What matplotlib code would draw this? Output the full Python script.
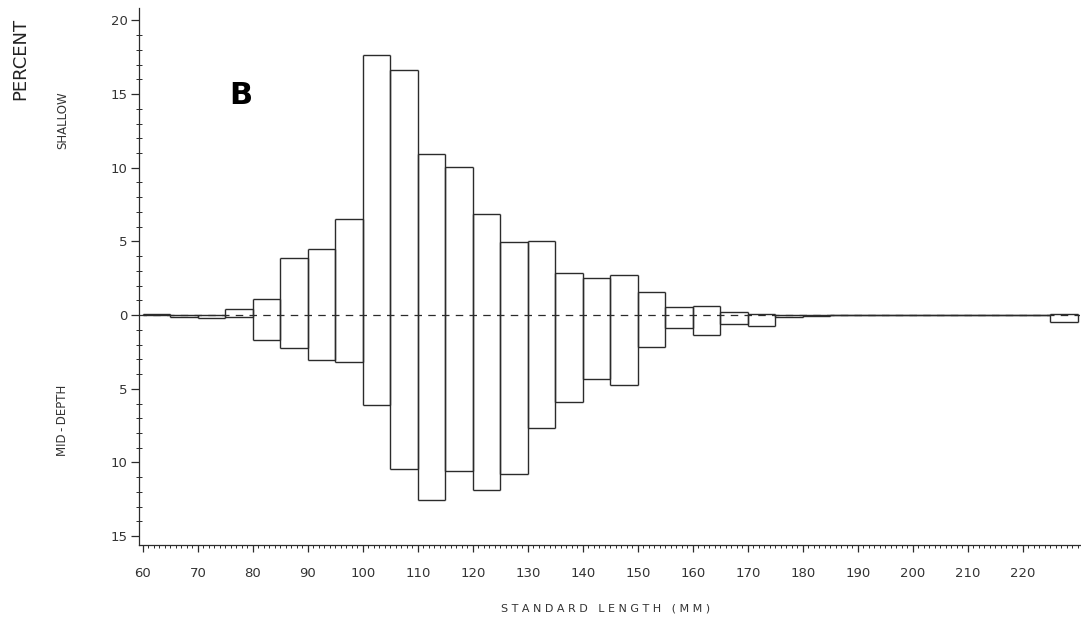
import numpy as np
import matplotlib
matplotlib.use('Agg')
import matplotlib.pyplot as plt
from matplotlib.ticker import MultipleLocator, FuncFormatter

# ── Data (percent per 5 mm standard-length class) ──────────────────────────
bin_starts = [60, 65, 70, 75, 80, 85, 90, 95, 100, 105, 110, 115, 120, 125,
              130, 135, 140, 145, 150, 155, 160, 165, 170, 175, 180, 185,
              190, 195, 200, 205, 210, 215, 220, 225]
shallow = [0.10, 0.03, 0.03, 0.40, 1.10, 3.90, 4.50, 6.50, 17.65, 16.63,
           10.90, 10.05, 6.86, 4.93, 5.02, 2.87, 2.55, 2.72, 1.54, 0.56,
           0.60, 0.18, 0.05, 0.00, 0.00, 0.02, 0.02, 0.02, 0.02, 0.02,
           0.02, 0.02, 0.02, 0.05]
mid_depth = [0.02, 0.15, 0.20, 0.10, 1.70, 2.20, 3.05, 3.15, 6.10, 10.45,
             12.56, 10.60, 11.90, 10.80, 7.67, 5.90, 4.35, 4.75, 2.15, 0.86,
             1.36, 0.61, 0.72, 0.10, 0.08, 0.02, 0.02, 0.02, 0.02, 0.02,
             0.02, 0.02, 0.02, 0.50]
BIN_W = 5
x_ticks = [60, 70, 80, 90, 100, 110, 120, 130, 140, 150, 160, 170, 180,
           190, 200, 210, 220]
y_ticks = [-15, -10, -5, 0, 5, 10, 15, 20]

INK = '#2b2b2b'

fig = plt.figure(figsize=(10.81, 6.17), dpi=100)
ax = fig.add_axes([0.1286, 0.1167, 0.8705, 0.8703])

left = np.array(bin_starts, dtype=float)
right = left + BIN_W
up = np.array(shallow)
down = -np.array(mid_depth)

# open bar outlines: no edge along the zero line, so the dashed line shows
ax.vlines(left, down, up, color=INK, lw=1.0, zorder=2)
ax.vlines(right, down, up, color=INK, lw=1.0, zorder=2)
ax.hlines(up, left, right, color=INK, lw=1.0, zorder=2)
ax.hlines(down, left, right, color=INK, lw=1.0, zorder=2)
ax.axhline(0, color=INK, lw=0.9, ls=(0, (6, 5)), zorder=3)

ax.set_xlim(59.3, 230.4)
ax.set_ylim(-15.6, 20.84)

for s in ('top', 'right'):
    ax.spines[s].set_visible(False)
for s in ('left', 'bottom'):
    ax.spines[s].set_color(INK)
    ax.spines[s].set_linewidth(0.9)

ax.set_xticks(x_ticks)
ax.xaxis.set_minor_locator(MultipleLocator(1))
ax.set_yticks(y_ticks)
ax.yaxis.set_minor_locator(MultipleLocator(1))
ax.yaxis.set_major_formatter(FuncFormatter(lambda v, p: f'{abs(int(round(v)))}'))

ax.tick_params(axis='x', which='major', direction='out', length=5, width=0.9,
               color=INK, labelsize=9.5, labelcolor='#333333', pad=11)
ax.tick_params(axis='x', which='minor', direction='out', length=2.5, width=0.7,
               color=INK)
ax.tick_params(axis='y', which='major', direction='out', length=6, width=0.9,
               color=INK, labelsize=9.5, labelcolor='#333333', pad=2)
ax.tick_params(axis='y', which='minor', direction='inout', length=4, width=0.7,
               color=INK)

# ── Labels ────────────────────────────────────────────────────────────────
fig.text(0.019, 0.905, 'PERCENT', rotation=90, ha='center', va='center',
         fontsize=13, color='#222222')
fig.text(0.058, 0.805, 'SHALLOW', rotation=90, ha='center', va='center',
         fontsize=8.5, color='#333333')
fig.text(0.058, 0.318, 'MID\u2009-\u2009DEPTH', rotation=90, ha='center', va='center',
         fontsize=8.5, color='#333333')
fig.text(0.2225, 0.845, 'B', ha='center', va='center', fontsize=22,
         fontweight='bold', color='black',
         family=['Liberation Sans Narrow', 'DejaVu Sans'])
fig.text(0.5606, 0.006, 'S T A N D A R D   L E N G T H   ( M M )',
         ha='center', va='bottom', fontsize=8, color='#333333')

plt.savefig('out.png', dpi=100, facecolor='white')
